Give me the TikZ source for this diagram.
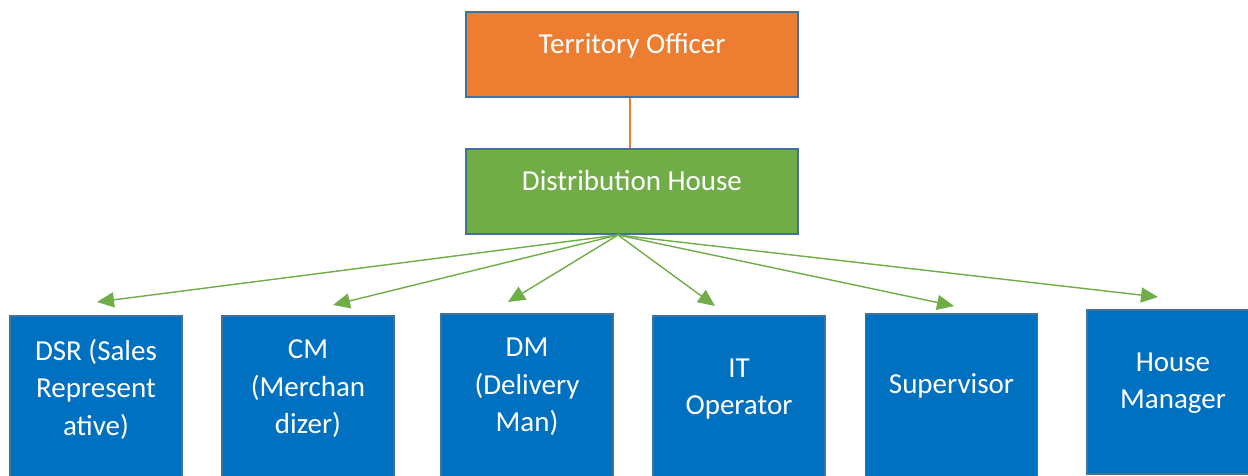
\documentclass[tikz,border=0pt]{standalone}
\usepackage{fontspec}
\setmainfont{Carlito}
\usetikzlibrary{arrows.meta}
\definecolor{toorange}{HTML}{ED7D31}
\definecolor{dhgreen}{HTML}{70AD47}
\definecolor{boxblue}{HTML}{0070C0}
\definecolor{edgeblue}{HTML}{41719C}
\tikzset{
  topbox/.style={draw=edgeblue, line width=2pt, minimum width=332pt, minimum height=85pt, inner sep=0pt},
  rolebox/.style={draw=edgeblue, line width=1.5pt, fill=boxblue, minimum width=172pt, inner sep=0pt},
  lbl/.style={text=white, font=\fontsize{29}{37.5}\selectfont, align=center, inner sep=0pt},
  feed/.style={draw=dhgreen, line width=1.4pt, -{Triangle[length=17pt,width=15pt]}},
}
\begin{document}
\begin{tikzpicture}[x=1pt,y=-1pt]
\useasboundingbox (0,0) rectangle (1248,475);
\clip (0,0) rectangle (1248,475);
\fill[white] (0,0) rectangle (1248,475);
% top boxes
\node[topbox, fill=toorange] (to) at (632,54.5) {};
\node[lbl, anchor=base] (tot) at (632,53) {Territory Officer};
\node[topbox, fill=dhgreen] (dh) at (632,191) {};
\node[lbl, anchor=base] (dht) at (632,190) {Distribution House};
\draw[toorange, line width=1.3pt] ([xshift=-2pt]to.south) -- ([xshift=-2pt]dh.north);
% role boxes
\node[rolebox, minimum height=180pt, anchor=north] (dsr) at (96,315) {};
\node[rolebox, minimum height=180pt, anchor=north] (cm) at (308,315) {};
\node[rolebox, minimum height=180pt, anchor=north] (dm) at (527,313) {};
\node[rolebox, minimum height=180pt, anchor=north] (it) at (739,315) {};
\node[rolebox, minimum height=180pt, anchor=north] (sv) at (951.5,313) {};
\node[rolebox, minimum height=164pt, anchor=north] (hm) at (1173,309) {};
\node[lbl] (dsrt) at (96,389) {DSR (Sales\\Represent\\ative)};
\node[lbl] (cmt) at (308,389) {CM\\(Merchan\\dizer)};
\node[lbl] (dmt) at (527,387) {DM\\(Delivery\\Man)};
\node[lbl] (itt) at (739,389) {IT\\Operator};
\node[lbl] (svt) at (951.5,386) {Supervisor};
\node[lbl] (hmt) at (1173,383) {House\\Manager};
% connectors
\coordinate (o) at (618,235);
\coordinate (t1) at (97,302);
\coordinate (t2) at (333,305);
\coordinate (t3) at (508,302);
\coordinate (t4) at (715,306);
\coordinate (t5) at (954,306);
\coordinate (t6) at (1158,297);
\foreach \t in {t1,t2,t3,t4,t5,t6} \draw[feed] (o) -- (\t);
\end{tikzpicture}
\end{document}
